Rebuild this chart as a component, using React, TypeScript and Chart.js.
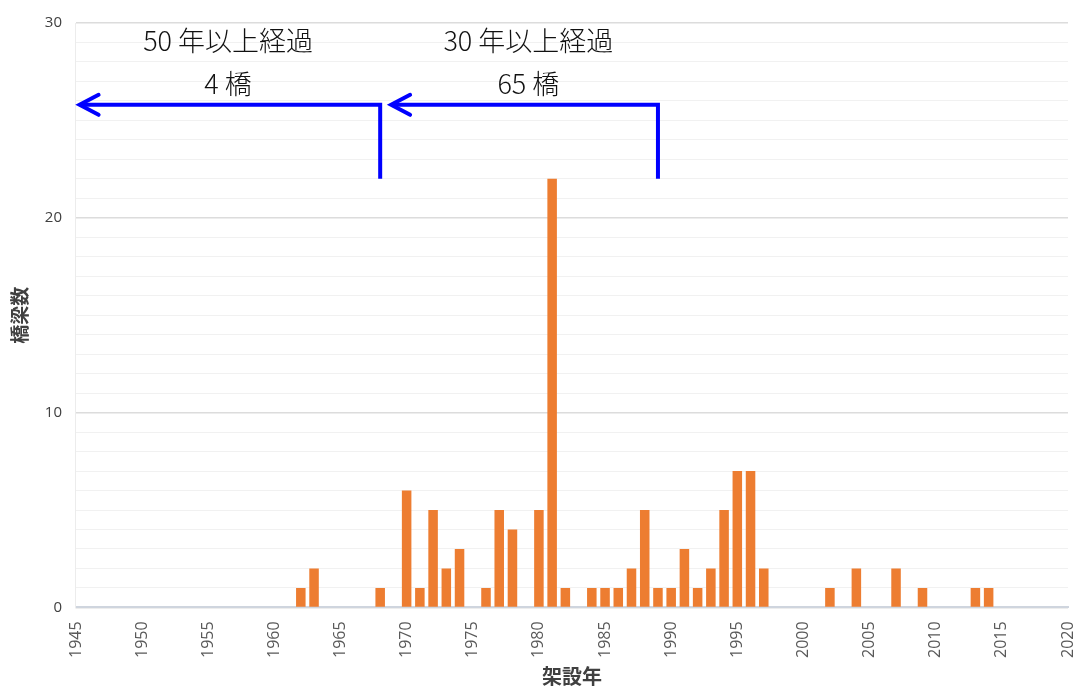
import React, { useEffect, useRef } from "react";
import { Chart, registerables } from "chart.js";

Chart.register(...registerables);

// ---- data ----
const years = [
  1962, 1963, 1968, 1970, 1971, 1972, 1973, 1974, 1976, 1977, 1978, 1980, 1981,
  1982, 1984, 1985, 1986, 1987, 1988, 1989, 1990, 1991, 1992, 1993, 1994, 1995,
  1996, 1997, 2002, 2004, 2007, 2009, 2013, 2014,
];
const counts = [
  1, 2, 1, 6, 1, 5, 2, 3, 1, 5, 4, 5, 22,
  1, 1, 1, 1, 2, 5, 1, 1, 3, 1, 2, 5, 7,
  7, 2, 1, 2, 2, 1, 1, 1,
];
const yearMin = 1945;
const yearMax = 2020;
const countMax = 30;

// annotation groups (data units: years / bridge counts)
const groupTitles = ["50 年以上経過", "30 年以上経過"];
const groupCounts = ["4 橋", "65 橋"];
const groupTextYear = [1956.5, 1979.2];
const arrowFromYear = [1968, 1989];
const arrowToYear = [1945.2, 1968.75];
const arrowLevel = 25.8;
const arrowFoot = 22;
const titleLevel = 29.1;
const countLevel = 26.9;

const annotationPlugin = {
  id: "bridgeAnnotations",
  afterDraw(chart: any) {
    const { ctx, scales } = chart;
    const x = scales.x;
    const y = scales.y;
    ctx.save();
    ctx.strokeStyle = "#0000FF";
    ctx.lineWidth = 4;
    ctx.lineCap = "butt";
    ctx.lineJoin = "miter";
    for (let i = 0; i < arrowFromYear.length; i++) {
      const x0 = x.getPixelForValue(arrowFromYear[i]);
      const x1 = x.getPixelForValue(arrowToYear[i]);
      const yl = y.getPixelForValue(arrowLevel);
      const yf = y.getPixelForValue(arrowFoot);
      ctx.beginPath();
      ctx.moveTo(x0, yf);
      ctx.lineTo(x0, yl);
      ctx.lineTo(x1 + 2, yl);
      ctx.stroke();
      ctx.beginPath();
      ctx.lineCap = "round";
      ctx.moveTo(x1 + 20, yl - 10);
      ctx.lineTo(x1 + 1, yl);
      ctx.lineTo(x1 + 20, yl + 10);
      ctx.stroke();
      ctx.lineCap = "butt";
    }
    ctx.fillStyle = "#111111";
    ctx.textAlign = "center";
    ctx.textBaseline = "middle";
    ctx.font = "300 27px 'Noto Sans CJK JP', sans-serif";
    for (let i = 0; i < groupTitles.length; i++) {
      const cx = x.getPixelForValue(groupTextYear[i]);
      ctx.fillText(groupTitles[i], cx, y.getPixelForValue(titleLevel));
      ctx.fillText(groupCounts[i], cx, y.getPixelForValue(countLevel));
    }
    ctx.restore();
  },
};

export default function App() {
  const ref = useRef<HTMLCanvasElement>(null);
  useEffect(() => {
    if (!ref.current) return;
    const chart = new Chart(ref.current, {
      type: "bar",
      data: {
        datasets: [
          {
            label: "橋梁数",
            data: years.map((yr, i) => ({ x: yr, y: counts[i] })),
            backgroundColor: "#ED7D31",
            borderWidth: 0,
            barPercentage: 0.9,
            categoryPercentage: 0.8,
          },
        ],
      },
      plugins: [annotationPlugin],
      options: {
        animation: false,
        responsive: false,
        devicePixelRatio: 1,
        layout: { padding: { left: 2, right: 10, top: 9, bottom: 0 } },
        plugins: {
          legend: { display: false },
          tooltip: { enabled: false },
        },
        scales: {
          x: {
            type: "linear",
            min: yearMin,
            max: yearMax,
            offset: false,
            afterFit: (s: any) => {
              s.paddingLeft = 0;
              s.paddingRight = 0;
            },
            grid: { display: false },
            border: { display: true, color: "#cfd5de", width: 2 },
            ticks: {
              stepSize: 5,
              minRotation: 90,
              maxRotation: 90,
              padding: 6,
              color: "#595959",
              font: { family: "'Open Sans', sans-serif", size: 16 },
              callback: (v: any) => String(v),
            },
            title: {
              display: true,
              text: "架設年",
              color: "#404040",
              font: { family: "'Noto Sans CJK JP', sans-serif", size: 20, weight: "bold" },
              padding: { top: 0, bottom: 0 },
            },
          },
          y: {
            type: "linear",
            min: 0,
            max: countMax,
            grid: {
              drawTicks: false,
              color: (c: any) => (c.tick && c.tick.value % 10 === 0 ? "#dcdcdc" : "#f1f1f1"),
              lineWidth: (c: any) => (c.tick && c.tick.value % 10 === 0 ? 1.5 : 1),
            },
            border: { display: true, color: "#ececec", width: 1 },
            ticks: {
              stepSize: 1,
              autoSkip: false,
              padding: 14,
              color: "#404040",
              font: { family: "'Open Sans', sans-serif", size: 15 },
              callback: (v: any) => (v % 10 === 0 ? String(v) : ""),
            },
            title: {
              display: true,
              text: "橋梁数",
              color: "#404040",
              font: { family: "'Noto Sans CJK JP', sans-serif", size: 19, weight: "bold" },
              padding: { top: 6, bottom: 0 },
            },
          },
        },
      },
    });
    return () => chart.destroy();
  }, []);
  return (
    <div style={{ position: "fixed", left: 0, top: 0, width: 1078, height: 688, background: "#fff" }}>
      <canvas ref={ref} width={1078} height={688} style={{ display: "block" }} />
    </div>
  );
}
